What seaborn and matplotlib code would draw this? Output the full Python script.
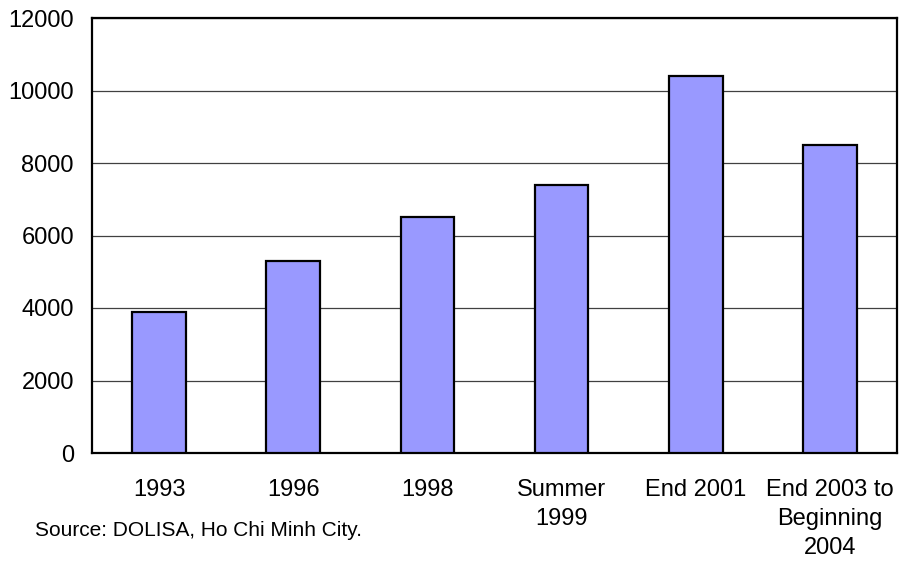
import matplotlib
matplotlib.use("Agg")
import matplotlib.pyplot as plt
import seaborn as sns
import pandas as pd

categories = ["1993", "1996", "1998", "Summer\n1999", "End 2001", "End 2003 to\nBeginning\n2004"]
values = [3900, 5300, 6500, 7400, 10400, 8500]
yticks = [0, 2000, 4000, 6000, 8000, 10000, 12000]
source_text = "Source: DOLISA, Ho Chi Minh City."

sns.set_theme(style="white")
plt.rcParams['font.family'] = ['Liberation Sans', 'DejaVu Sans']

df = pd.DataFrame({"cat": categories, "val": values})

fig = plt.figure(figsize=(8.99, 5.62), dpi=100)
ax = fig.add_axes([92/899, 1 - 453/562, (897 - 92)/899, (453 - 18)/562])

sns.barplot(data=df, x="cat", y="val", ax=ax, color="#9999FF", saturation=1,
            width=0.4, edgecolor="black", linewidth=1.6, zorder=3)

ax.set_ylim(0, 12000)
ax.set_yticks(yticks)
ax.set_yticklabels([str(v) for v in yticks])
ax.yaxis.grid(True, color="#404040", linewidth=0.9, zorder=0)
ax.xaxis.grid(False)
ax.set_axisbelow(True)
ax.set_xlabel("")
ax.set_ylabel("")
for s in ax.spines.values():
    s.set_visible(True)
    s.set_color("black")
    s.set_linewidth(1.6)
ax.tick_params(axis="both", length=0, labelsize=17, colors="black")
ax.tick_params(axis="x", pad=19)
ax.tick_params(axis="y", pad=13)
for lbl in ax.get_xticklabels():
    lbl.set_linespacing(1.4)
    lbl.set_horizontalalignment("center")

fig.text(35/899, 1 - 531/562, source_text, fontsize=15, ha="left", va="center", color="black")

fig.savefig("out.png", dpi=100, facecolor="white")
